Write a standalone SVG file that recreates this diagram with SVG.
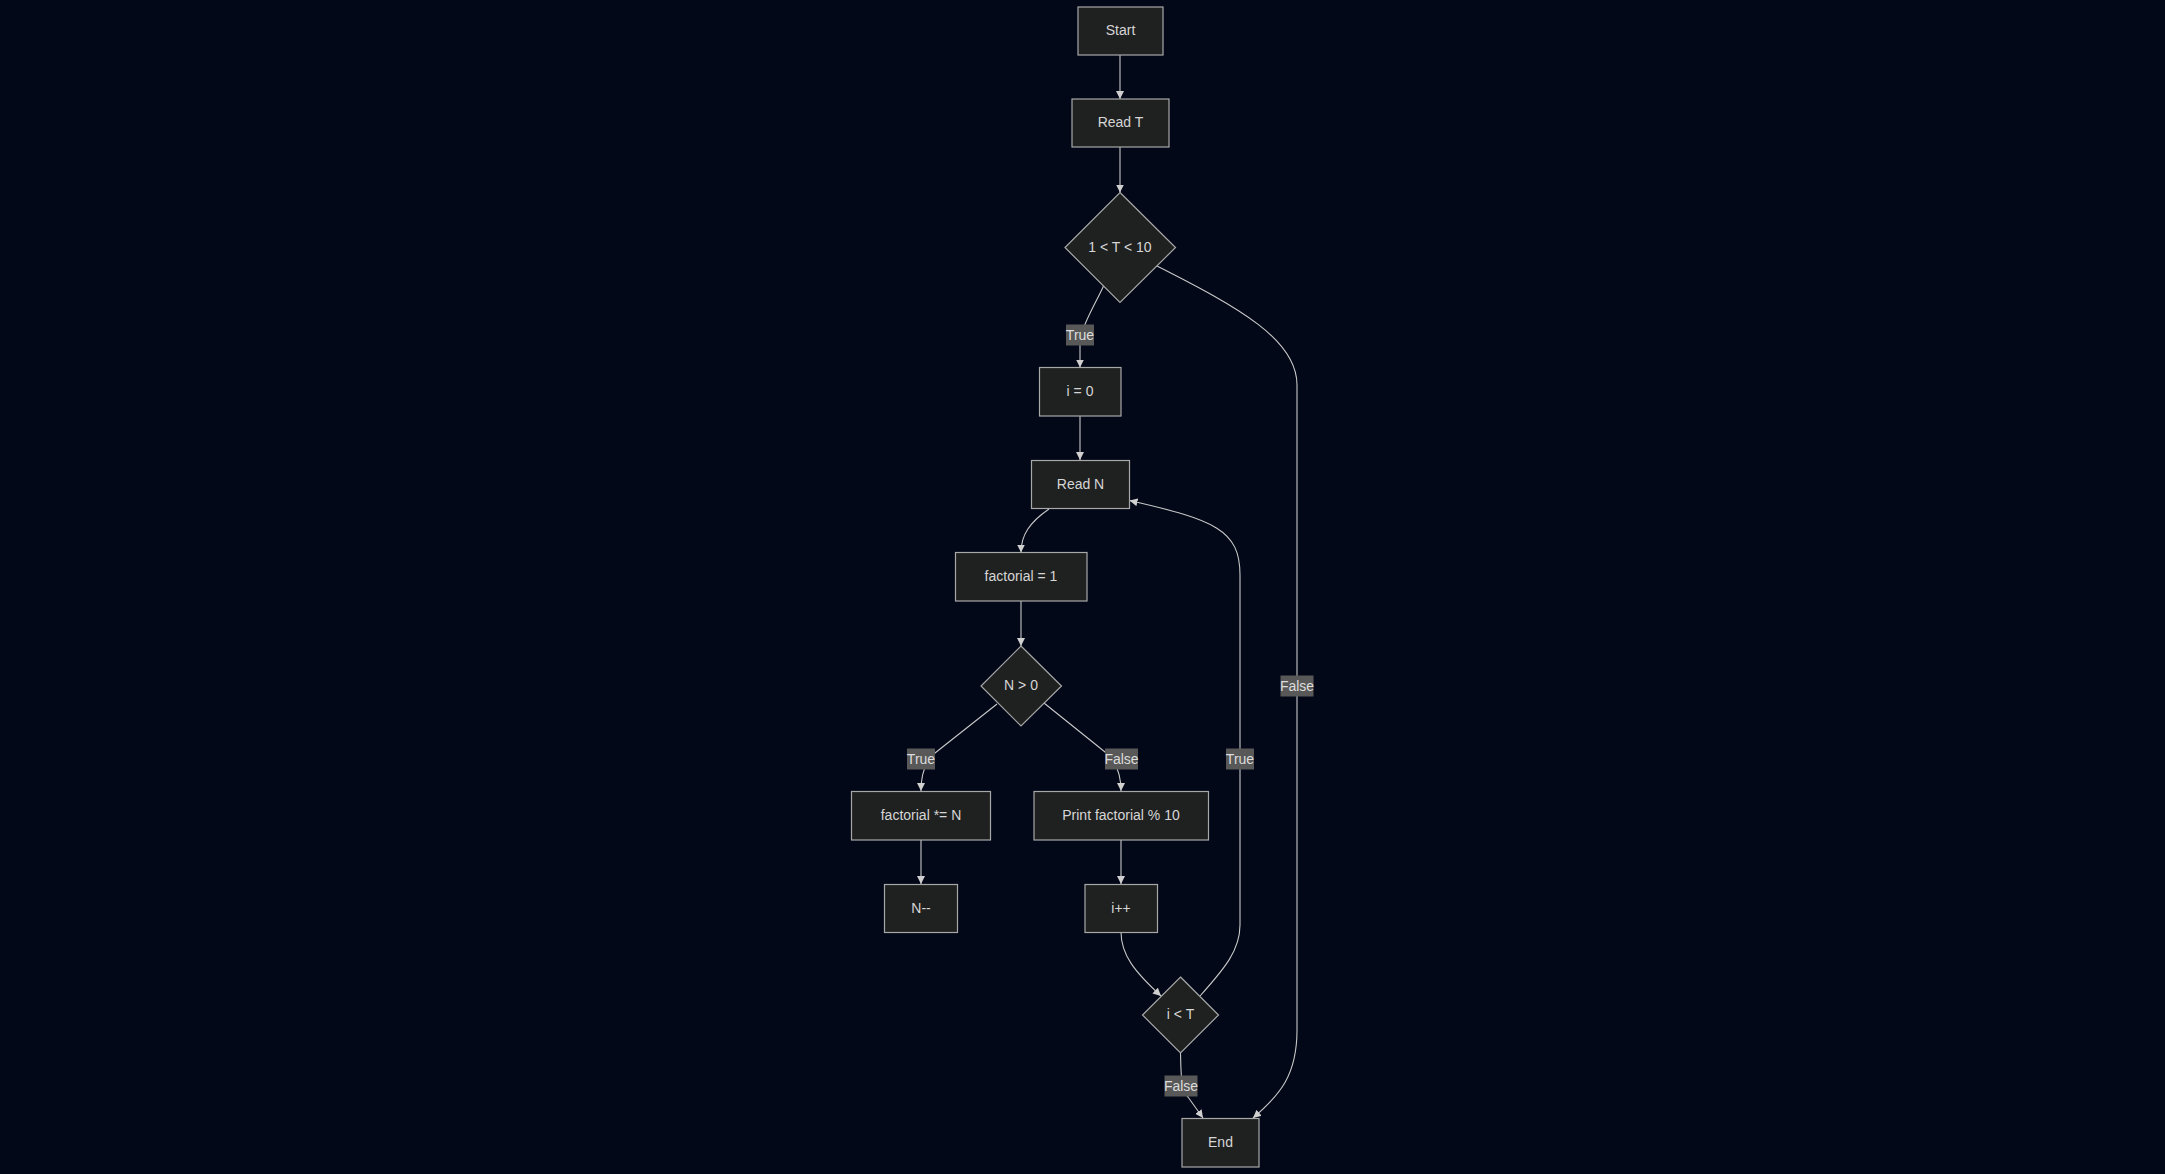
<svg xmlns="http://www.w3.org/2000/svg" width="2165" height="1174" viewBox="0 0 2165 1174">
<style>
.node rect,.node polygon{fill:#1f2020;stroke:#a8a8a8;stroke-width:1.2}
.node text{fill:#d6d6d6;font-family:"Liberation Sans",Arial,sans-serif;font-size:14px;text-anchor:middle}
.edge{fill:none;stroke:#c8c8c8;stroke-width:1.1}
.lbl rect{fill:#585858}
.lbl text{fill:#dcdcdc;font-family:"Liberation Sans",Arial,sans-serif;font-size:14px;text-anchor:middle}
</style>
<defs>
<marker id="arr" viewBox="0 0 10 10" refX="10" refY="5" markerUnits="userSpaceOnUse" markerWidth="8" markerHeight="8" orient="auto">
<path d="M0,0 L10,5 L0,10 z" fill="#d0d0d0"/>
</marker>
</defs>
<rect width="2165" height="1174" fill="#020817"/>
<g id="connectors">
<path class="edge" d="M1120,55 L1120,99" marker-end="url(#arr)"/>
<path class="edge" d="M1120,147 L1120,192.5" marker-end="url(#arr)"/>
<path class="edge" d="M1104,285 C1095,305 1080,328 1080,345 L1080,367.5" marker-end="url(#arr)"/>
<path class="edge" d="M1157,266 C1240,308 1297,340 1297,385 L1297,1030 C1297,1075 1280,1095 1253,1118" marker-end="url(#arr)"/>
<path class="edge" d="M1080,416 L1080,460" marker-end="url(#arr)"/>
<path class="edge" d="M1049,509 C1030,522 1021,535 1021,552.5" marker-end="url(#arr)"/>
<path class="edge" d="M1021,601 L1021,646" marker-end="url(#arr)"/>
<path class="edge" d="M997,704 L935,753 Q921,765 921,791" marker-end="url(#arr)"/>
<path class="edge" d="M1044,703 L1105,752 Q1121,765 1121,791" marker-end="url(#arr)"/>
<path class="edge" d="M921,840 L921,884" marker-end="url(#arr)"/>
<path class="edge" d="M1121,840 L1121,884" marker-end="url(#arr)"/>
<path class="edge" d="M1121,932 C1121,955 1135,972 1161,996" marker-end="url(#arr)"/>
<path class="edge" d="M1200,996 C1225,968 1240,950 1240,925 L1240,575 C1240,530 1215,520 1129.5,500.5" marker-end="url(#arr)"/>
<path class="edge" d="M1180.5,1053 C1181,1075 1181,1090 1188,1097 L1203,1118" marker-end="url(#arr)"/>
</g>
<g id="edge-labels">
<g class="lbl"><rect x="1066" y="324.5" width="28" height="21"/><text x="1080" y="340">True</text></g>
<g class="lbl"><rect x="1280.5" y="675.5" width="33" height="21"/><text x="1297" y="691">False</text></g>
<g class="lbl"><rect x="907" y="748.5" width="28" height="21"/><text x="921" y="764">True</text></g>
<g class="lbl"><rect x="1105" y="748.5" width="33" height="21"/><text x="1121.5" y="764">False</text></g>
<g class="lbl"><rect x="1226" y="748.5" width="28" height="21"/><text x="1240" y="764">True</text></g>
<g class="lbl"><rect x="1164.5" y="1075.5" width="33" height="21"/><text x="1181" y="1091">False</text></g>
</g>
<g id="n-start" class="node"><rect x="1078" y="7" width="85" height="48"/><text x="1120.5" y="35">Start</text></g>
<g id="n-readT" class="node"><rect x="1072" y="99" width="97" height="48"/><text x="1120.5" y="127">Read T</text></g>
<g id="n-cond1" class="node"><polygon points="1120,192.5 1175.5,247.5 1120,302.5 1065,247.5"/><text x="1120" y="251.5">1 &lt; T &lt; 10</text></g>
<g id="n-i0" class="node"><rect x="1039.5" y="367.5" width="81.5" height="48.5"/><text x="1080" y="395.5">i = 0</text></g>
<g id="n-readN" class="node"><rect x="1031.5" y="460.5" width="98" height="48"/><text x="1080.5" y="488.5">Read N</text></g>
<g id="n-fact1" class="node"><rect x="955.5" y="552.5" width="131.5" height="48.5"/><text x="1021" y="580.5">factorial = 1</text></g>
<g id="n-cond2" class="node"><polygon points="1021,646 1061.5,686 1021,726 981,686"/><text x="1021" y="690">N &gt; 0</text></g>
<g id="n-mult" class="node"><rect x="851.5" y="791.5" width="139" height="48.5"/><text x="921" y="819.5">factorial *= N</text></g>
<g id="n-print" class="node"><rect x="1034" y="791.5" width="174.5" height="48.5"/><text x="1121" y="819.5">Print factorial % 10</text></g>
<g id="n-ndec" class="node"><rect x="884.5" y="884.5" width="73" height="48"/><text x="921" y="912.5">N--</text></g>
<g id="n-iinc" class="node"><rect x="1085" y="884.5" width="72.5" height="48"/><text x="1121" y="912.5">i++</text></g>
<g id="n-cond3" class="node"><polygon points="1180.5,977 1218.5,1015 1180.5,1053 1142.5,1015"/><text x="1180.5" y="1019">i &lt; T</text></g>
<g id="n-end" class="node"><rect x="1182" y="1118.5" width="77" height="48.5"/><text x="1220.5" y="1146.5">End</text></g>
</svg>
